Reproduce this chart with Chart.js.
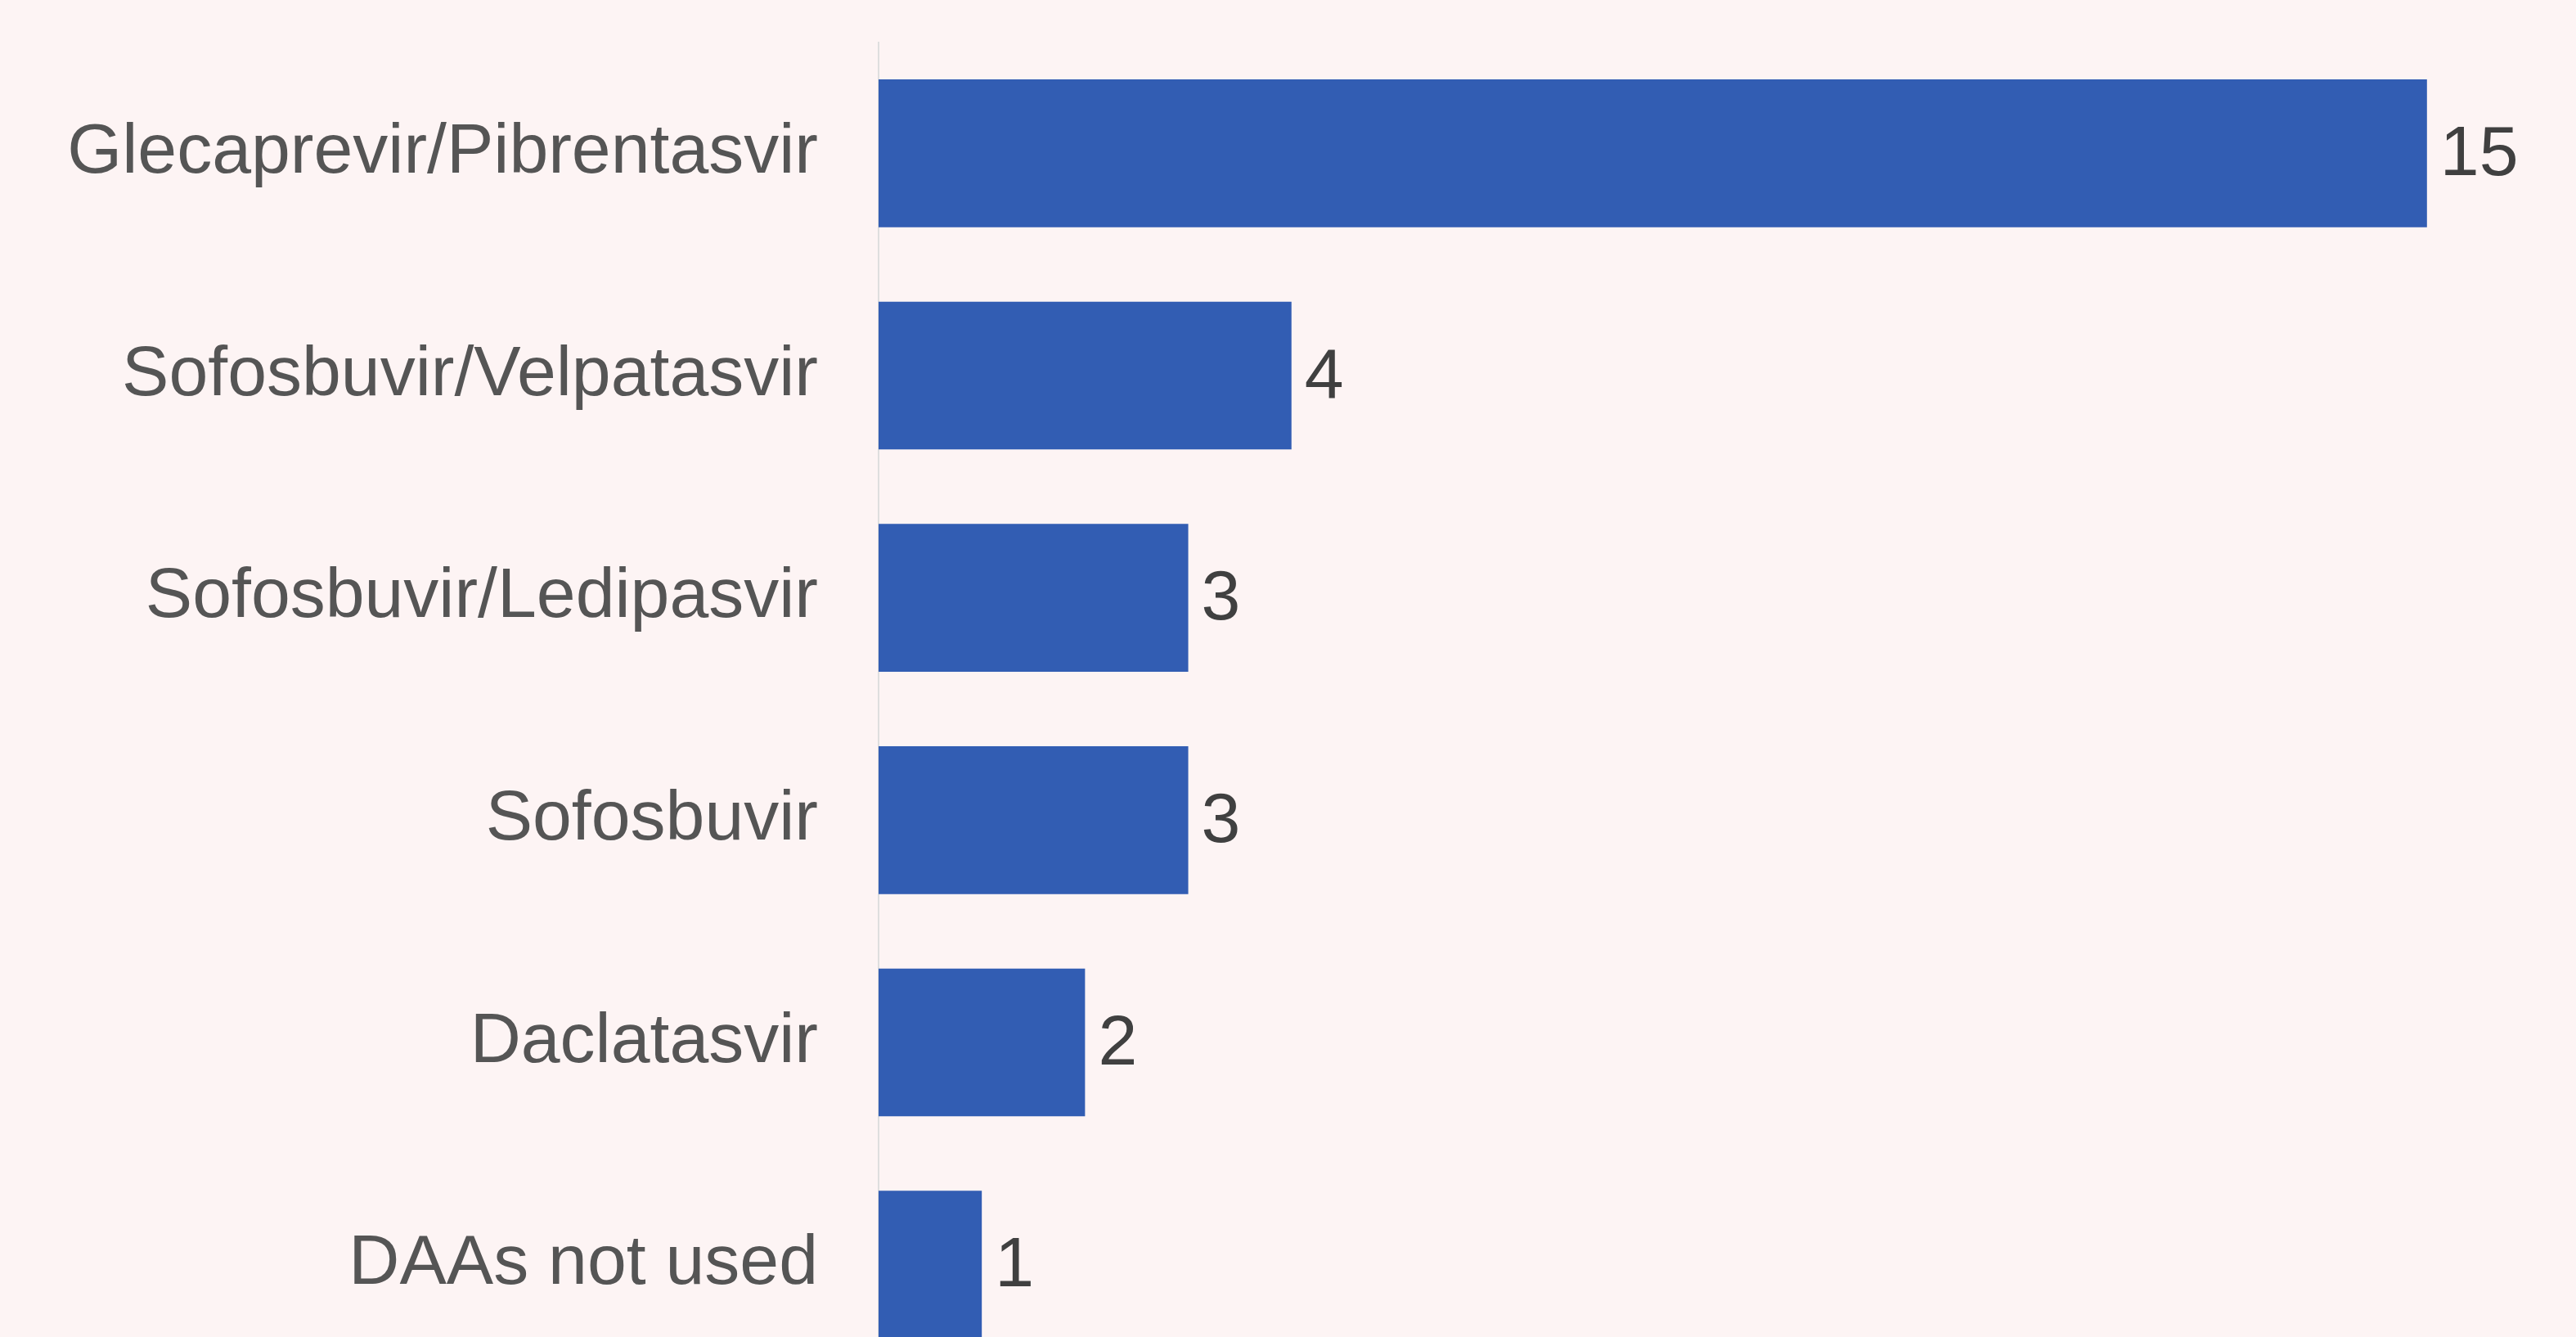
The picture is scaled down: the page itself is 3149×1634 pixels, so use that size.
<!DOCTYPE html>
<html>
<head>
<meta charset="utf-8">
<script src="https://cdn.jsdelivr.net/npm/chart.js@4.4.1/dist/chart.umd.min.js"></script>
<style>
  html, body { margin: 0; padding: 0; background: #fdf4f4; overflow: hidden; }
  canvas { display: block; }
</style>
</head>
<body>
<canvas id="daaChart" width="3149" height="1733"></canvas>
<script>
// categories and counts
const drugs = [
  'Glecaprevir/Pibrentasvir',
  'Sofosbuvir/Velpatasvir',
  'Sofosbuvir/Ledipasvir',
  'Sofosbuvir',
  'Daclatasvir',
  'DAAs not used'
];
const patients = [15, 4, 3, 3, 2, 1];

// value labels at the end of each bar
const barValues = {
  id: 'barValues',
  afterDatasetsDraw(chart) {
    const { ctx } = chart;
    const meta = chart.getDatasetMeta(0);
    ctx.save();
    ctx.font = '86px "Liberation Sans", Arial, sans-serif';
    ctx.fillStyle = '#404040';
    ctx.textAlign = 'left';
    ctx.textBaseline = 'middle';
    meta.data.forEach((bar, i) => {
      ctx.fillText(String(patients[i]), bar.x + 16, bar.y + 3);
    });
    ctx.restore();
  }
};

const ctx = document.getElementById('daaChart').getContext('2d');
new Chart(ctx, {
  type: 'bar',
  data: {
    labels: drugs,
    datasets: [{
      data: patients,
      backgroundColor: '#325db3',
      borderWidth: 0,
      categoryPercentage: 1,
      barPercentage: 0.665
    }]
  },
  options: {
    indexAxis: 'y',
    responsive: false,
    animation: false,
    devicePixelRatio: 1,
    layout: { padding: { top: 50, right: 56, bottom: 0, left: 0 } },
    plugins: { legend: { display: false }, tooltip: { enabled: false } },
    scales: {
      x: { display: false, min: 0, max: 16 },
      y: {
        grid: { display: true, drawOnChartArea: false, drawTicks: true, tickLength: 74, color: 'transparent' },
        border: { display: true, color: '#dedede', width: 2 },
        ticks: {
          color: '#555555',
          padding: 0,
          font: { family: '"Liberation Sans", Arial, sans-serif', size: 86 }
        },
        afterFit(scale) { scale.width = 1074; }
      }
    }
  },
  plugins: [barValues]
});
</script>
</body>
</html>
